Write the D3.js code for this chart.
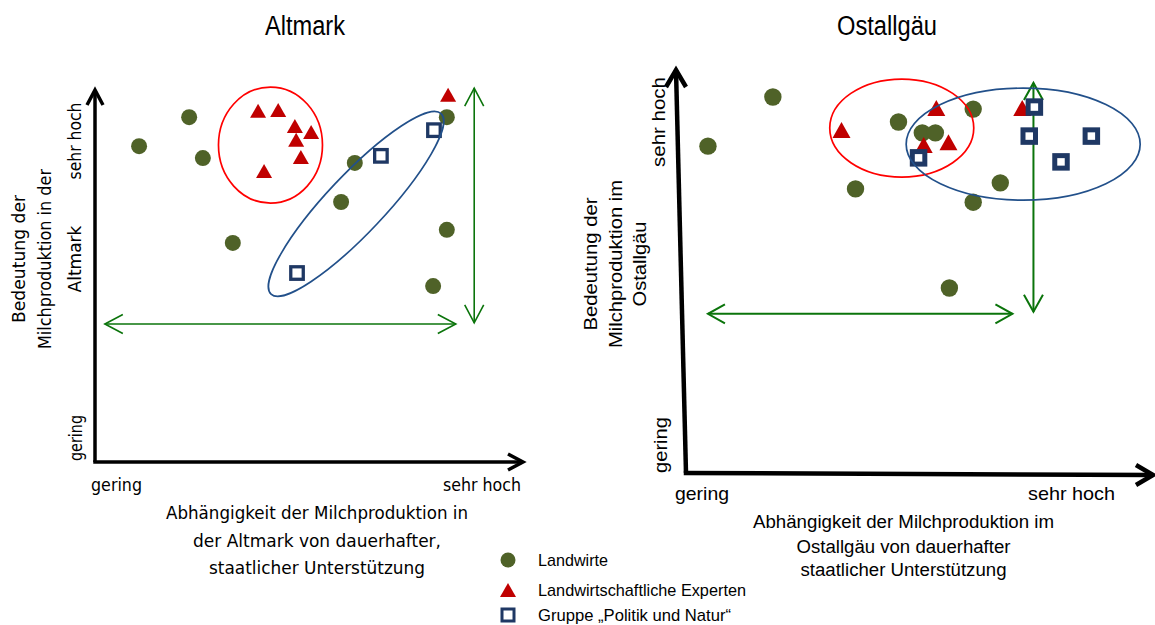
<!DOCTYPE html>
<html><head><meta charset="utf-8">
<script src="https://cdn.jsdelivr.net/npm/d3@7"></script>
<style>html,body{margin:0;padding:0;background:#fff}svg{display:block}</style>
</head><body>
<svg id="chart" width="1155" height="625"></svg>
<script>
// ---------------- DATA ----------------
const panelTitles = ["Altmark", "Ostallgäu"];
const xTickLabels = ["gering", "sehr hoch"];
const yTickLabels = ["gering", "sehr hoch"];
const seriesNames = ["Landwirte", "Landwirtschaftliche Experten", "Gruppe „Politik und Natur“"];

const altmarkYTitle = ["Bedeutung der", "Milchproduktion in der", "Altmark"];
const altmarkXTitle = ["Abhängigkeit der Milchproduktion in", "der Altmark von dauerhafter,", "staatlicher Unterstützung"];
const ostYTitle = ["Bedeutung der", "Milchproduktion im", "Ostallgäu"];
const ostXTitle = ["Abhängigkeit der Milchproduktion im", "Ostallgäu von dauerhafter", "staatlicher Unterstützung"];

// [Abhängigkeit (x), Bedeutung (y)] on a 0 (gering) .. 100 (sehr hoch) scale
const altmarkLandwirte = [[10.3,84.9],[22.0,92.7],[25.2,81.7],[32.2,58.9],[57.5,69.9],[60.7,80.4],[82.2,92.7],[82.2,62.4],[79.0,47.3]];
const altmarkExperten  = [[38.1,94.4],[42.8,94.6],[46.7,90.3],[50.5,88.7],[47.0,86.6],[48.1,82.0],[39.5,78.2],[82.5,98.7]];
const altmarkPolitik   = [[47.2,50.8],[66.8,82.3],[79.2,89.2]];

const ostLandwirte = [[18.6,93.3],[4.7,81.1],[45.5,87.1],[50.6,84.4],[53.4,84.4],[61.5,90.3],[36.3,70.5],[67.3,72.0],[61.5,67.2],[56.4,45.9]];
const ostExperten  = [[33.3,85.1],[53.6,90.6],[50.9,81.4],[56.2,82.1],[72.0,90.6]];
const ostPolitik   = [[49.8,78.2],[74.6,90.8],[73.5,83.6],[86.8,83.6],[80.3,77.2]];

// spread ranges (green double arrows): [from, to] and the level they are drawn at
const altmarkXRange = [2.3, 84.3], altmarkXRangeAt = 37.1;
const altmarkYRange = [37.4, 100.5], altmarkYRangeAt = 88.6;
const ostXRange = [4.7, 69.9], ostXRangeAt = 39.5;
const ostYRange = [40.0, 96.8], ostYRangeAt = 74.4;

// group centres (ellipses): series index, centre x, centre y
const altmarkGroups = [[1, 41.0, 85.2], [2, 61.0, 69.4]];
const ostGroups = [[1, 46.2, 85.6], [2, 72.2, 81.6]];

// ---------------- STYLE / LAYOUT ----------------
const COLORS = ["#4f6228", "#c00000", "#1f3864"];
const RING = ["#4f6228", "#ff0000", "#22508a"];
const ARROW = "#0b740b";
const NARROW = "'Liberation Sans Narrow','Arial Narrow','DejaVu Sans Condensed',sans-serif";
const ARIAL = "'Liberation Sans',Arial,sans-serif";

const svg = d3.select("#chart");

function chevron(g, tip, dirx, diry, len, half, color, w) {
  const bx = tip[0] - dirx * len, by = tip[1] - diry * len;
  const px = -diry * half, py = dirx * half;
  g.append("path")
    .attr("d", `M${bx + px},${by + py}L${tip[0]},${tip[1]}L${bx - px},${by - py}`)
    .attr("fill", "none").attr("stroke", color).attr("stroke-width", w)
    .attr("stroke-linejoin", "miter").attr("stroke-linecap", "butt");
}

function txt(g, s, x, y, o) {
  const t = g.append("text").text(s)
    .attr("font-family", o.font).attr("font-size", o.size)
    .attr("fill", o.fill || "#000")
    .attr("text-anchor", o.anchor || "middle")
    .attr("dominant-baseline", o.baseline || "central");
  if (o.rotate) t.attr("transform", `translate(${x},${y}) rotate(-90)`);
  else t.attr("x", x).attr("y", y);
  if (o.len) t.attr("textLength", o.len).attr("lengthAdjust", "spacingAndGlyphs");
  return t;
}

function drawPanel(L, D) {
  const g = svg.append("g");
  const x = d3.scaleLinear().domain([0, 100]).range([L.x0, L.x1]);
  const y = d3.scaleLinear().domain([0, 100]).range([L.y0, L.y1]);

  txt(g, D.title, L.titleX, 35, {font: ARIAL, size: 27, baseline: "alphabetic", len: L.titleLen});

  g.append("line").attr("x1", x(0)).attr("y1", y(0)).attr("x2", L.yTopX).attr("y2", y(100))
    .attr("stroke", "#000").attr("stroke-width", L.axisW);
  g.append("line").attr("x1", x(0) - L.axisW / 2).attr("y1", y(0)).attr("x2", x(100)).attr("y2", y(0) + L.xTilt)
    .attr("stroke", "#000").attr("stroke-width", L.axisW);
  chevron(g, [L.yTopX, y(100)], 0, -1, L.headLen, L.headHalf, "#000", L.axisW);
  chevron(g, [x(100), y(0) + L.xTilt], 1, 0, L.headLen, L.headHalf, "#000", L.axisW);

  txt(g, xTickLabels[0], L.xTick[0][0], L.xTick[0][1], {font: L.font, size: L.tickSize, len: L.xTick[0][2]});
  txt(g, xTickLabels[1], L.xTick[1][0], L.xTick[1][1], {font: L.font, size: L.tickSize, len: L.xTick[1][2]});
  txt(g, yTickLabels[0], L.yTick[0][0], L.yTick[0][1], {font: L.font, size: L.tickSize, rotate: true, len: L.yTick[0][2]});
  txt(g, yTickLabels[1], L.yTick[1][0], L.yTick[1][1], {font: L.font, size: L.tickSize, rotate: true, len: L.yTick[1][2]});

  D.yTitle.forEach((s, i) => txt(g, s, L.yTitle[i][0], L.yTitleY, {font: L.font, size: L.titleSize, rotate: true, len: L.yTitle[i][1]}));
  D.xTitle.forEach((s, i) => txt(g, s, L.xTitleX, L.xTitle[i][0], {font: L.font, size: L.titleSize, len: L.xTitle[i][1]}));

  const ag = g.append("g");
  ag.append("line").attr("x1", x(D.xRange[0])).attr("x2", x(D.xRange[1]))
    .attr("y1", y(D.xRangeAt)).attr("y2", y(D.xRangeAt)).attr("stroke", ARROW).attr("stroke-width", L.arrowW);
  chevron(ag, [x(D.xRange[0]), y(D.xRangeAt)], -1, 0, L.aLen, L.aHalf, ARROW, L.arrowW);
  chevron(ag, [x(D.xRange[1]), y(D.xRangeAt)], 1, 0, L.aLen, L.aHalf, ARROW, L.arrowW);
  ag.append("line").attr("x1", x(D.yRangeAt)).attr("x2", x(D.yRangeAt))
    .attr("y1", y(D.yRange[0])).attr("y2", y(D.yRange[1])).attr("stroke", ARROW).attr("stroke-width", L.arrowW);
  chevron(ag, [x(D.yRangeAt), y(D.yRange[0])], 0, 1, L.aLen, L.aHalf, ARROW, L.arrowW);
  chevron(ag, [x(D.yRangeAt), y(D.yRange[1])], 0, -1, L.aLen, L.aHalf, ARROW, L.arrowW);

  g.append("g").selectAll("circle").data(D.series[0]).join("circle")
    .attr("cx", d => x(d[0])).attr("cy", d => y(d[1])).attr("r", L.r).attr("fill", COLORS[0]);
  const tw = L.triW / 2, th = L.triH / 2;
  g.append("g").selectAll("path").data(D.series[1]).join("path")
    .attr("d", d => `M${x(d[0])},${y(d[1]) - th}L${x(d[0]) + tw},${y(d[1]) + th}L${x(d[0]) - tw},${y(d[1]) + th}Z`)
    .attr("fill", COLORS[1]);
  g.append("g").selectAll("rect").data(D.series[2]).join("rect")
    .attr("x", d => x(d[0]) - L.sq / 2).attr("y", d => y(d[1]) - L.sq / 2)
    .attr("width", L.sq).attr("height", L.sq)
    .attr("fill", "#fff").attr("stroke", COLORS[2]).attr("stroke-width", L.sqW);

  g.append("g").selectAll("ellipse").data(D.groups).join("ellipse")
    .attr("cx", d => x(d[1])).attr("cy", d => y(d[2]))
    .attr("rx", (d, i) => L.ell[i][0]).attr("ry", (d, i) => L.ell[i][1])
    .attr("transform", (d, i) => `rotate(${L.ell[i][2]},${x(d[1])},${y(d[2])})`)
    .attr("fill", "none").attr("stroke", d => RING[d[0]]).attr("stroke-width", 1.7);
}

drawPanel({
  x0: 95, x1: 523, y0: 462, y1: 90, yTopX: 95, xTilt: 0, axisW: 3.5, headLen: 15, headHalf: 8,
  titleX: 305, titleLen: 80, font: NARROW, tickSize: 18, titleSize: 18,
  xTick: [[116.5, 484, 51], [482, 484, 78]],
  yTick: [[75, 438, 46], [74, 141, 77]],
  yTitle: [[18, 128], [44, 180], [74, 67]], yTitleY: 259,
  xTitleX: 317, xTitle: [[512, 302], [540, 248], [567, 216]],
  arrowW: 1.6, aLen: 18, aHalf: 9.5,
  r: 8, triW: 16, triH: 14, sq: 12.5, sqW: 3.3,
  ell: [[52, 58, 0], [124, 29, -46.7]]
}, {
  title: panelTitles[0], yTitle: altmarkYTitle, xTitle: altmarkXTitle,
  xRange: altmarkXRange, xRangeAt: altmarkXRangeAt, yRange: altmarkYRange, yRangeAt: altmarkYRangeAt,
  series: [altmarkLandwirte, altmarkExperten, altmarkPolitik], groups: altmarkGroups
});

drawPanel({
  x0: 686, x1: 1153, y0: 473, y1: 70, yTopX: 676, xTilt: 2, axisW: 4.5, headLen: 17, headHalf: 10,
  titleX: 887, titleLen: 100, font: ARIAL, tickSize: 19, titleSize: 18,
  xTick: [[702, 493, 54], [1071.5, 493, 87]],
  yTick: [[660, 445, 56], [658, 122, 90]],
  yTitle: [[591, 133], [616, 168], [640, 85]], yTitleY: 264,
  xTitleX: 903.5, xTitle: [[522, 301], [547, 214], [570, 206]],
  arrowW: 2, aLen: 17, aHalf: 9.5,
  r: 8.7, triW: 18, triH: 16, sq: 12.5, sqW: 5,
  ell: [[72, 49, 0], [117, 56, 0]]
}, {
  title: panelTitles[1], yTitle: ostYTitle, xTitle: ostXTitle,
  xRange: ostXRange, xRangeAt: ostXRangeAt, yRange: ostYRange, yRangeAt: ostYRangeAt,
  series: [ostLandwirte, ostExperten, ostPolitik], groups: ostGroups
});

// legend
const lg = svg.append("g");
const legY = [560, 590, 615], legLen = [70, 208, 193];
seriesNames.forEach((s, i) => {
  const cy = legY[i];
  if (i === 0) lg.append("circle").attr("cx", 508).attr("cy", cy).attr("r", 7.5).attr("fill", COLORS[0]);
  if (i === 1) lg.append("path").attr("d", `M508,${cy - 7}L516,${cy + 7}L500,${cy + 7}Z`).attr("fill", COLORS[1]);
  if (i === 2) lg.append("rect").attr("x", 502).attr("y", cy - 6).attr("width", 12).attr("height", 12)
    .attr("fill", "#fff").attr("stroke", COLORS[2]).attr("stroke-width", 3);
  txt(lg, s, 538, cy, {font: ARIAL, size: 17, anchor: "start", len: legLen[i]});
});
</script>
</body></html>
